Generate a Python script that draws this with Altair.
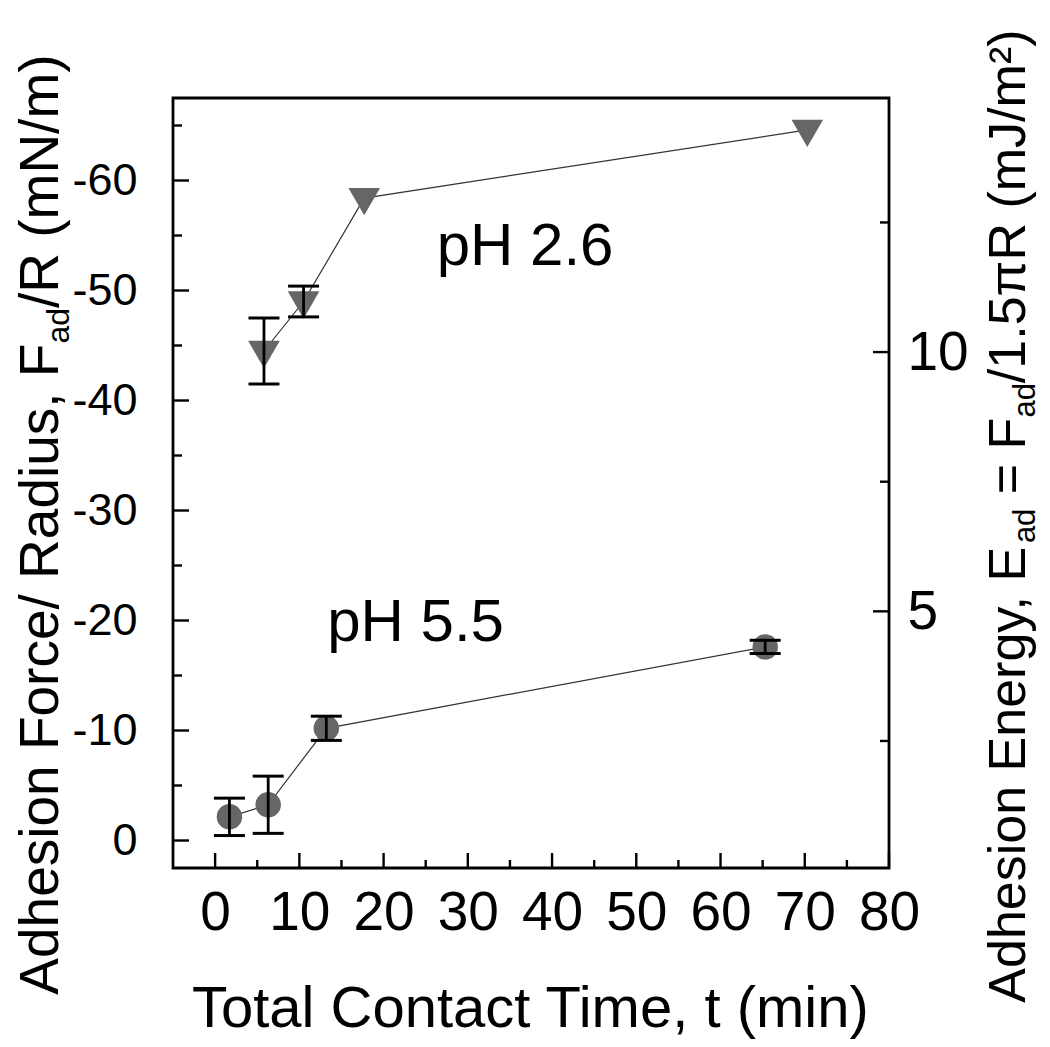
import altair as alt
import pandas as pd

# ---------------- data ----------------
t_ph26 = [5.8, 10.5, 17.7, 70.3]
f_ph26 = [-44.5, -49.0, -58.4, -64.6]
e_ph26 = [3.0, 1.4, 0.0, 0.0]

t_ph55 = [1.7, 6.3, 13.2, 65.3]
f_ph55 = [-2.15, -3.25, -10.2, -17.6]
e_ph55 = [1.7, 2.6, 1.1, 0.6]

x_major = [0, 10, 20, 30, 40, 50, 60, 70, 80]
x_minor = [5, 15, 25, 35, 45, 55, 65, 75]
y_major = [-60, -50, -40, -30, -20, -10, 0]
y_minor = [-65, -55, -45, -35, -25, -15, -5]
e_major = [5, 10]
e_minor = [2.5, 7.5, 12.5]

ann_text = ["pH 2.6", "pH 5.5"]
ann_t = [26.3, 13.3]
ann_f = [-52.3, -18.1]

# ---------------- style ----------------
FONT = "Liberation Sans, Arial, sans-serif"
W, H = 716, 770
PAD_L, PAD_T = 165, 90
MARK = "#666666"

AW = {' ': 278, 'A': 667, 'd': 556, 'h': 556, 'e': 556, 's': 500, 'i': 222, 'o': 556,
      'n': 556, 'F': 611, 'r': 333, 'c': 500, '/': 278, 'R': 722, 'a': 556, 'u': 556,
      ',': 278, '(': 333, 'm': 833, 'N': 722, ')': 333, 'E': 667, 'g': 556, 'y': 500,
      '=': 584, '1': 556, '.': 278, '5': 556, 'π': 578, 'J': 500, '²': 333}


def tw(s, size):
    return sum(AW.get(c, 556) for c in s) * size / 1000.0


xscale = alt.Scale(domain=[-5, 80], nice=False, zero=False)
yscale = alt.Scale(domain=[-67.5, 2.5], reverse=True, nice=False, zero=False)
escale = alt.Scale(domain=[0.05, 14.9], nice=False, zero=False)

xaxis = alt.Axis(values=x_major, format="d", labelFontSize=55, labelFont=FONT, labelColor="black",
                 labelPadding=18, ticks=False, tickSize=0, domain=False, grid=False, title=None,
                 labelOverlap=False, labelFlush=False)
yaxis = alt.Axis(orient="left", values=y_major, labelExpr="toString(datum.value)", labelFontSize=45,
                 labelFont=FONT, labelColor="black", labelPadding=36, ticks=False, tickSize=0,
                 domain=False, grid=False, title=None, labelOverlap=False, labelFlush=False)
eaxis = alt.Axis(orient="right", values=e_major, format="d", labelFontSize=55, labelFont=FONT,
                 labelColor="black", labelPadding=18, ticks=False, tickSize=0, domain=False,
                 grid=False, title=None, labelOverlap=False, labelFlush=False)


def X(f):
    return alt.X(f, type="quantitative", scale=xscale, axis=xaxis)


def Y(f):
    return alt.Y(f, type="quantitative", scale=yscale, axis=yaxis)


def df_series(t, f, e):
    d = pd.DataFrame({"t": t, "F": f, "err": e})
    d["lo"] = d["F"] - d["err"]
    d["hi"] = d["F"] + d["err"]
    return d


d26 = df_series(t_ph26, f_ph26, e_ph26)
d55 = df_series(t_ph55, f_ph55, e_ph55)
err_all = pd.concat([d26, d55])
err_all = err_all[err_all["err"] > 0]

TICKW = 2.4


# ---------------- ticks (inward) ----------------
def xticks(vals, ln):
    return alt.Chart(pd.DataFrame({"v": vals})).mark_rule(color="black", strokeWidth=TICKW).encode(
        x=X("v"), y=alt.value(H), y2=alt.value(H - ln))


def yticks(vals, ln):
    return alt.Chart(pd.DataFrame({"v": vals})).mark_rule(color="black", strokeWidth=TICKW).encode(
        y=Y("v"), x=alt.value(0), x2=alt.value(ln))


def eticks(vals, ln):
    return alt.Chart(pd.DataFrame({"v": vals})).mark_rule(color="black", strokeWidth=TICKW).encode(
        y=alt.Y("v", type="quantitative", scale=escale, axis=eaxis),
        x=alt.value(W), x2=alt.value(W - ln))


# ---------------- data marks ----------------
line26 = alt.Chart(d26).mark_line(color="#333333", strokeWidth=1.2).encode(x=X("t"), y=Y("F"))
line55 = alt.Chart(d55).mark_line(color="#333333", strokeWidth=1.2).encode(x=X("t"), y=Y("F"))
pts26 = alt.Chart(d26).mark_point(shape="triangle-down", filled=True, size=1000, color=MARK,
                                  opacity=1, yOffset=3.5).encode(x=X("t"), y=Y("F"))
pts55 = alt.Chart(d55).mark_circle(size=650, color=MARK, opacity=1).encode(x=X("t"), y=Y("F"))
ebar = alt.Chart(err_all).mark_rule(color="black", strokeWidth=2.8).encode(
    x=X("t"), y=Y("lo"), y2=alt.Y2("hi"))
ecap_hi = alt.Chart(err_all).mark_rule(color="black", strokeWidth=3, xOffset=-15.5, x2Offset=15.5).encode(
    x=X("t"), x2=alt.X2("t"), y=Y("hi"))
ecap_lo = alt.Chart(err_all).mark_rule(color="black", strokeWidth=3, xOffset=-15.5, x2Offset=15.5).encode(
    x=X("t"), x2=alt.X2("t"), y=Y("lo"))

ann = alt.Chart(pd.DataFrame({"t": ann_t, "F": ann_f, "label": ann_text})).mark_text(
    align="left", baseline="alphabetic", fontSize=60, font=FONT, color="black").encode(
    x=X("t"), y=Y("F"), text="label:N")


# ---------------- titles (with subscripts) ----------------
def piece(text, px, py, size, angle=270, align="left"):
    return alt.Chart(alt.Data(values=[{"k": 1}])).mark_text(
        text=text, angle=angle, align=align, baseline="alphabetic", fontSize=size,
        font=FONT, color="black").encode(x=alt.value(px), y=alt.value(py))


def compose(parts, bx, ystart, main, sub, shift):
    out = []
    y = ystart
    for txt, is_sub in parts:
        size = sub if is_sub else main
        lead = len(txt) - len(txt.lstrip(" "))
        y -= tw(" " * lead, size)
        core = txt.lstrip(" ")
        out.append(piece(core, bx + (shift if is_sub else 0), y, size))
        y -= tw(core, size)
    return out


titles = [piece("Total Contact Time, t (min)", 530 - 172.7, 1027 - 98.3, 58, angle=0, align="center")]

titles += compose([("Adhesion Force/ Radius, F", False), ("ad", True), ("/R (mN/m)", False)],
                  58 - 172.7, 995 - 98.3, 55, 32, 11)

titles += compose([("Adhesion Energy, E", False), ("ad", True), (" = F", False), ("ad", True),
                   ("/1.5πR (mJ/m²)", False)],
                  1025 - 172.7, 1003 - 98.3, 52, 31, 10)

left_layer = alt.layer(
    xticks(x_major, 15), xticks(x_minor, 8), yticks(y_major, 16), yticks(y_minor, 9),
    line26, line55, pts26, pts55, ebar, ecap_hi, ecap_lo, ann, *titles
)
right_layer = alt.layer(eticks(e_major, 16), eticks(e_minor, 9))

chart = alt.layer(left_layer, right_layer).resolve_scale(y="independent").properties(
    width=W, height=H,
    autosize=alt.AutoSizeParams(type="none"),
    padding={"left": PAD_L, "top": PAD_T, "right": 153, "bottom": 171},
    background="white",
).configure_view(stroke="black", strokeWidth=2.8)

chart.save("out.html", embed_options={"renderer": "svg", "actions": False})
